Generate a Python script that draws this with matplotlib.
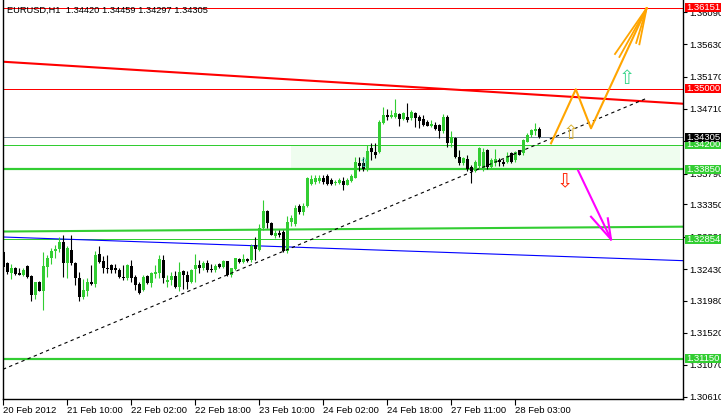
import matplotlib
matplotlib.use("Agg")
import matplotlib.pyplot as plt
from matplotlib.patches import Rectangle

plt.rcParams['font.family'] = ['Liberation Sans', 'DejaVu Sans']

header = "EURUSD,H1  1.34420 1.34459 1.34297 1.34305"

# hourly candles
opens = [
    1.3267, 1.3251, 1.3238, 1.3245, 1.3237, 1.3234, 1.3247, 1.3233, 1.3206, 1.3224,
    1.3212, 1.3246, 1.3258, 1.3269, 1.3271, 1.3282, 1.3251, 1.3270, 1.3251, 1.3230,
    1.3203, 1.3212, 1.3224, 1.3222, 1.3264, 1.3254, 1.3244, 1.3249, 1.3245, 1.3242,
    1.3232, 1.3230, 1.3248, 1.3232, 1.3222, 1.3213, 1.3233, 1.3223, 1.3236, 1.3237,
    1.3256, 1.3225, 1.3227, 1.3233, 1.3218, 1.3240, 1.3235, 1.3225, 1.3243, 1.3249,
    1.3244, 1.3252, 1.3243, 1.3242, 1.3250, 1.3246, 1.3254, 1.3235, 1.3243, 1.3257,
    1.3253, 1.3257, 1.3256, 1.3277, 1.3270, 1.3301, 1.3326, 1.3309, 1.3290, 1.3294,
    1.3296, 1.3268, 1.3310, 1.3307, 1.3333, 1.3324, 1.3333, 1.3364, 1.3367, 1.3368,
    1.3372, 1.3375, 1.3370, 1.3365, 1.3366, 1.3368, 1.3363, 1.3368, 1.3373, 1.3394,
    1.3394, 1.3384, 1.3415, 1.3410, 1.3409, 1.3451, 1.3462, 1.3460, 1.3460, 1.3464,
    1.3457, 1.3460, 1.3458, 1.3465, 1.3460, 1.3457, 1.3453, 1.3447, 1.3448, 1.3448,
    1.3439, 1.3460, 1.3422, 1.3430, 1.3403, 1.3394, 1.3399, 1.3388, 1.3382, 1.3389,
    1.3386, 1.3412, 1.3388, 1.3394, 1.3398, 1.3396, 1.3396, 1.3408, 1.3398, 1.3412,
    1.3408, 1.3424, 1.3434, 1.3440, 1.34420]
highs = [
    1.3268, 1.3253, 1.3250, 1.3246, 1.3244, 1.3245, 1.3249, 1.3234, 1.3225, 1.3226,
    1.3267, 1.3263, 1.3273, 1.3277, 1.3288, 1.3291, 1.3276, 1.3291, 1.3253, 1.3239,
    1.3229, 1.3230, 1.3249, 1.3269, 1.3276, 1.3261, 1.3263, 1.3250, 1.3250, 1.3244,
    1.3249, 1.3250, 1.3256, 1.3234, 1.3225, 1.3234, 1.3234, 1.3239, 1.3249, 1.3263,
    1.3263, 1.3234, 1.3239, 1.3240, 1.3253, 1.3242, 1.3240, 1.3243, 1.3265, 1.3256,
    1.3254, 1.3256, 1.3250, 1.3250, 1.3251, 1.3256, 1.3255, 1.3245, 1.3259, 1.3259,
    1.3264, 1.3259, 1.3278, 1.3288, 1.3307, 1.3341, 1.3327, 1.3310, 1.3299, 1.3299,
    1.3299, 1.3319, 1.3320, 1.3334, 1.3336, 1.3337, 1.3374, 1.3377, 1.3377, 1.3377,
    1.3377, 1.3378, 1.3373, 1.3370, 1.3372, 1.3374, 1.3372, 1.3379, 1.3402, 1.3402,
    1.3403, 1.3420, 1.3423, 1.3422, 1.3455, 1.3474, 1.3471, 1.3469, 1.3485, 1.3465,
    1.3467, 1.3479, 1.3469, 1.3467, 1.3462, 1.3462, 1.3455, 1.3455, 1.3452, 1.3450,
    1.3464, 1.3462, 1.3439, 1.3431, 1.3412, 1.3403, 1.3405, 1.3391, 1.3398, 1.3417,
    1.3415, 1.3414, 1.3401, 1.3414, 1.3401, 1.3399, 1.3409, 1.3410, 1.3411, 1.3413,
    1.3428, 1.3436, 1.3443, 1.3451, 1.34459]
lows = [
    1.3242, 1.3236, 1.3229, 1.3235, 1.3234, 1.3233, 1.3230, 1.3197, 1.3200, 1.3211,
    1.3185, 1.3231, 1.3250, 1.3258, 1.3267, 1.3231, 1.3230, 1.3249, 1.3220, 1.3197,
    1.3201, 1.3204, 1.3220, 1.3218, 1.3251, 1.3237, 1.3237, 1.3237, 1.3237, 1.3230,
    1.3227, 1.3227, 1.3225, 1.3213, 1.3208, 1.3211, 1.3222, 1.3218, 1.3230, 1.3230,
    1.3223, 1.3218, 1.3220, 1.3216, 1.3212, 1.3215, 1.3215, 1.3223, 1.3225, 1.3237,
    1.3242, 1.3239, 1.3239, 1.3239, 1.3244, 1.3245, 1.3233, 1.3232, 1.3242, 1.3251,
    1.3251, 1.3253, 1.3253, 1.3256, 1.3268, 1.3299, 1.3301, 1.3291, 1.3287, 1.3289,
    1.3267, 1.3266, 1.3304, 1.3304, 1.3322, 1.3320, 1.3331, 1.3363, 1.3364, 1.3365,
    1.3364, 1.3363, 1.3363, 1.3363, 1.3364, 1.3356, 1.3362, 1.3367, 1.3372, 1.3382,
    1.3382, 1.3383, 1.3398, 1.3401, 1.3408, 1.3450, 1.3455, 1.3458, 1.3458, 1.3446,
    1.3455, 1.3453, 1.3455, 1.3445, 1.3444, 1.3447, 1.3446, 1.3445, 1.3441, 1.3429,
    1.3437, 1.3417, 1.3417, 1.3401, 1.3391, 1.3391, 1.3383, 1.3365, 1.3381, 1.3386,
    1.3382, 1.3386, 1.3387, 1.3389, 1.3390, 1.3389, 1.3394, 1.3394, 1.3396, 1.3405,
    1.3405, 1.3424, 1.3431, 1.3434, 1.34297]
closes = [
    1.3246, 1.3239, 1.3245, 1.3236, 1.3235, 1.3242, 1.3231, 1.3206, 1.3224, 1.3212,
    1.3248, 1.3258, 1.3269, 1.3271, 1.3282, 1.3251, 1.3273, 1.3252, 1.3230, 1.3203,
    1.3213, 1.3224, 1.3222, 1.3263, 1.3253, 1.3244, 1.3243, 1.3242, 1.3241, 1.3231,
    1.3230, 1.3249, 1.3230, 1.3220, 1.3209, 1.3232, 1.3223, 1.3238, 1.3239, 1.3257,
    1.3230, 1.3228, 1.3233, 1.3217, 1.3239, 1.3234, 1.3224, 1.3242, 1.3249, 1.3244,
    1.3252, 1.3242, 1.3242, 1.3247, 1.3246, 1.3254, 1.3234, 1.3244, 1.3258, 1.3253,
    1.3257, 1.3254, 1.3276, 1.3271, 1.3301, 1.3325, 1.3308, 1.3292, 1.3294, 1.3291,
    1.3268, 1.3310, 1.3316, 1.3330, 1.3324, 1.3333, 1.3372, 1.3371, 1.3373, 1.3372,
    1.3367, 1.3364, 1.3364, 1.3367, 1.3370, 1.3362, 1.3370, 1.3375, 1.3395, 1.3389,
    1.3386, 1.3411, 1.3410, 1.3406, 1.3453, 1.3462, 1.3460, 1.3463, 1.3465, 1.3457,
    1.3465, 1.3455, 1.3467, 1.3458, 1.3454, 1.3448, 1.3447, 1.3450, 1.3443, 1.3439,
    1.3460, 1.3422, 1.3431, 1.3403, 1.3394, 1.3401, 1.3385, 1.3382, 1.3395, 1.3416,
    1.3410, 1.3388, 1.3398, 1.3399, 1.3396, 1.3393, 1.3404, 1.3396, 1.3410, 1.3406,
    1.3427, 1.3434, 1.3441, 1.3443, 1.34305]

time_ticks = [0, 16, 32, 48, 64, 80, 96, 112, 128]
time_labels = ["20 Feb 2012", "21 Feb 10:00", "22 Feb 02:00", "22 Feb 18:00",
               "23 Feb 10:00", "24 Feb 02:00", "24 Feb 18:00", "27 Feb 11:00",
               "28 Feb 03:00"]
price_ticks = [1.36090, 1.35630, 1.35170, 1.34710, 1.34250, 1.33790, 1.33350,
               1.32890, 1.32430, 1.31980, 1.31520, 1.31070, 1.30610]

# horizontal levels
levels = [1.36151, 1.35000, 1.34200, 1.33850, 1.32854, 1.31150]
level_colors = ["#ff0000", "#ff0000", "#32cd32", "#32cd32", "#32cd32", "#32cd32"]
level_widths = [1.0, 1.0, 1.0, 2.2, 1.0, 2.2]
bid = 1.34305

zone_prices = [1.33850, 1.34200]
zone_bars = [71.9, 169.2]

# trend lines (bar, price)
trend_bars = [-0.1, 169.9]
red_trend = [1.35382, 1.34784]
blue_trend = [1.32886, 1.32549]
green_trend = [1.32964, 1.33033]
dash_bars = [-0.1, 160.8]
dash_trend = [1.31002, 1.34861]

# projected paths
up_bars = [136.9, 143.1, 146.9, 160.8]
up_prices = [1.34220, 1.34989, 1.34434, 1.36143]
up_barb_bars = [152.9, 154.0, 159.0, 158.2]
up_barb_prices = [1.35492, 1.35450, 1.35630, 1.35650]
down_bars = [143.7, 151.9]
down_prices = [1.33830, 1.32853]
down_barb_bars = [146.9, 151.1]
down_barb_prices = [1.33175, 1.33152]

# signal arrows
sig_bars = [155.9, 141.8, 140.4, 90.2]
sig_prices = [1.35136, 1.34363, 1.33669, 1.33926]
sig_chars = ["\u21e7", "\u21e7", "\u21e9", "\u21e7"]
sig_colors = ["#3cd68c", "#d8b030", "#ff2000", "#40e0c0"]
sig_sizes = [14, 14, 14, 9]

green = "#32cd32"

fig = plt.figure(figsize=(7.21, 4.16), dpi=100)
ax = fig.add_axes([3 / 721, 17 / 416, 680 / 721, 399 / 416])
ax.set_xlim(-0.1, 169.9)
ax.set_ylim(1.30579, 1.36261)

# zone
ax.add_patch(Rectangle((zone_bars[0], zone_prices[0]), zone_bars[1] - zone_bars[0],
                       zone_prices[1] - zone_prices[0], facecolor="#effdef",
                       edgecolor="none", zorder=0))

for lv, c, w in zip(levels, level_colors, level_widths):
    ax.axhline(lv, color=c, lw=w * 0.72, zorder=1)
ax.axhline(bid, color="#778899", lw=0.72, zorder=1)

ax.plot(trend_bars, red_trend, color="#ff0000", lw=1.5, zorder=1)
ax.plot(trend_bars, blue_trend, color="#0000ff", lw=0.8, zorder=1)
ax.plot(trend_bars, green_trend, color=green, lw=1.5, zorder=1)

# candles
idx = list(range(len(opens)))
cols = [green if c > o else "black" for o, c in zip(opens, closes)]
ax.vlines(idx, lows, highs, colors=cols, lw=0.8, zorder=2)
bottoms = [min(o, c) for o, c in zip(opens, closes)]
heights = [max(abs(c - o), 0.00012) for o, c in zip(opens, closes)]
ax.bar(idx, heights, bottom=bottoms, width=0.75, color=cols, linewidth=0, zorder=2)

ax.plot(dash_bars, dash_trend, color="black", lw=0.8, dashes=(3, 3), zorder=3)

ax.plot(up_bars, up_prices, color="#ffa500", lw=1.5, zorder=4)
for b, p in zip(up_barb_bars, up_barb_prices):
    ax.plot([up_bars[-1], b], [up_prices[-1], p], color="#ffa500", lw=1.3, zorder=4)
ax.plot(down_bars, down_prices, color="#ff00ff", lw=1.5, zorder=4)
for b, p in zip(down_barb_bars, down_barb_prices):
    ax.plot([down_bars[-1], b], [down_prices[-1], p], color="#ff00ff", lw=1.5, zorder=4)

for b, p, ch, c, fs in zip(sig_bars, sig_prices, sig_chars, sig_colors, sig_sizes):
    ax.text(b, p, ch, color=c, fontsize=fs, ha="center", va="center",
            family="DejaVu Sans", zorder=5)

# axes
ax.spines["top"].set_visible(False)
for s in ["left", "right", "bottom"]:
    ax.spines[s].set_linewidth(1.0)
ax.yaxis.tick_right()
ax.set_yticks(price_ticks)
ax.set_yticklabels(["%.5f" % v for v in price_ticks])
ax.tick_params(axis="y", direction="out", length=3, width=0.8, labelsize=6.8, pad=1.5)
ax.set_xticks(time_ticks)
ax.set_xticklabels(time_labels)
ax.tick_params(axis="x", direction="out", length=4, width=0.8, labelsize=6.8, pad=1)
for lab in ax.get_xticklabels():
    lab.set_horizontalalignment("left")

# price tags on the right
tag_prices = levels + [bid]
tag_colors = level_colors + ["black"]
ytr = ax.get_yaxis_transform()
box_h = 0.00130
for p, c in zip(tag_prices, tag_colors):
    ax.add_patch(Rectangle((1.0025, p - box_h / 2), 0.06, box_h, transform=ytr,
                           facecolor=c, edgecolor="none", clip_on=False, zorder=6))
    ax.text(1.0055, p, "%.5f" % p, transform=ytr, color="white",
            fontsize=6.8, ha="left", va="center", clip_on=False, zorder=7)

fig.text(7 / 721, 1 - 10 / 416, header, fontsize=6.7, va="center", ha="left")

fig.savefig("out.png", dpi=100)
